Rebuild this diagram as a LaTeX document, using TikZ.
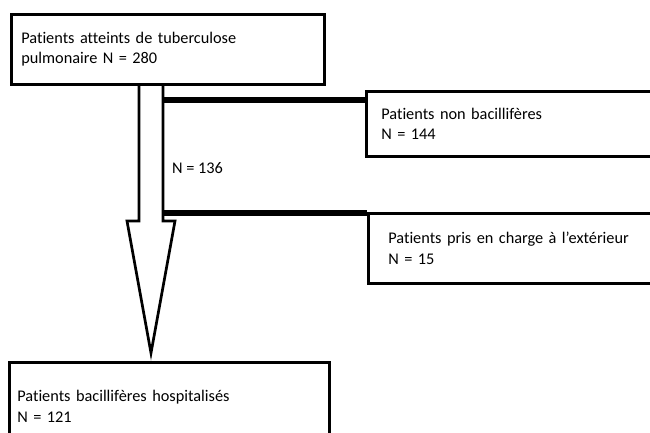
\documentclass[tikz,border=0pt]{standalone}
\usepackage{fontspec}
\setmainfont{Carlito}[Ligatures={ResetAll,NoCommon}]
\usepackage{tikz}
\usetikzlibrary{positioning, calc}
\tikzset{
    boite/.style={draw, line width=2.6pt, fill=white, align=left, anchor=north west, inner ysep=0pt,
        font=\fontsize{16.3}{20.5}\selectfont},
    trait/.style={line width=5.5pt},
    fleche/.style={line width=2.7pt, line join=miter},
    texte/.style={font=\fontsize{16.3}{20.5}\selectfont, inner sep=0pt},
}

\begin{document}
\begin{tikzpicture}[x=1pt, y=-1pt]
\useasboundingbox (0,0) rectangle (650,432);
\clip (0,0) rectangle (650,432);
% Effectif de depart
\node[boite, inner xsep=10pt, text width=293pt, minimum height=70pt] (total) at (10,13)
    {Patients atteints de tuberculose\\pulmonaire N = 280};
% Grosse fleche vers le bas
\coordinate (tige) at (151,83);
\coordinate (pointe) at (151,353);
\draw[fleche] ($(tige)+(-12,0)$) -- ($(tige)+(-12,138)$) -- ($(tige)+(-24,138)$) -- (pointe)
    -- ($(tige)+(24,138)$) -- ($(tige)+(12,138)$) -- ($(tige)+(12,0)$);
\coordinate (sortie1) at (163,100);
\coordinate (sortie2) at (163,213);
\node[texte, anchor=base west] (restants) at (172,173) {N = 136};
% Exclusions
\node[boite, inner xsep=15pt, text width=275pt, minimum height=65pt] (nonbacil) at (365,90)
    {Patients non bacillifères\\N = 144};
\node[boite, inner xsep=20pt, text width=263pt, minimum height=70pt] (exterieur) at (367,212)
    {Patients pris en charge à l'extérieur\\N = 15};
\draw[trait] (sortie1) -- (sortie1 -| nonbacil.west);
\draw[trait] (sortie2) -- (sortie2 -| exterieur.west);
% Effectif final
\node[boite, inner xsep=8pt, text width=304pt, minimum height=88pt] (hospit) at (8,361)
    {Patients bacillifères hospitalisés\\N = 121};
\end{tikzpicture}
\end{document}
